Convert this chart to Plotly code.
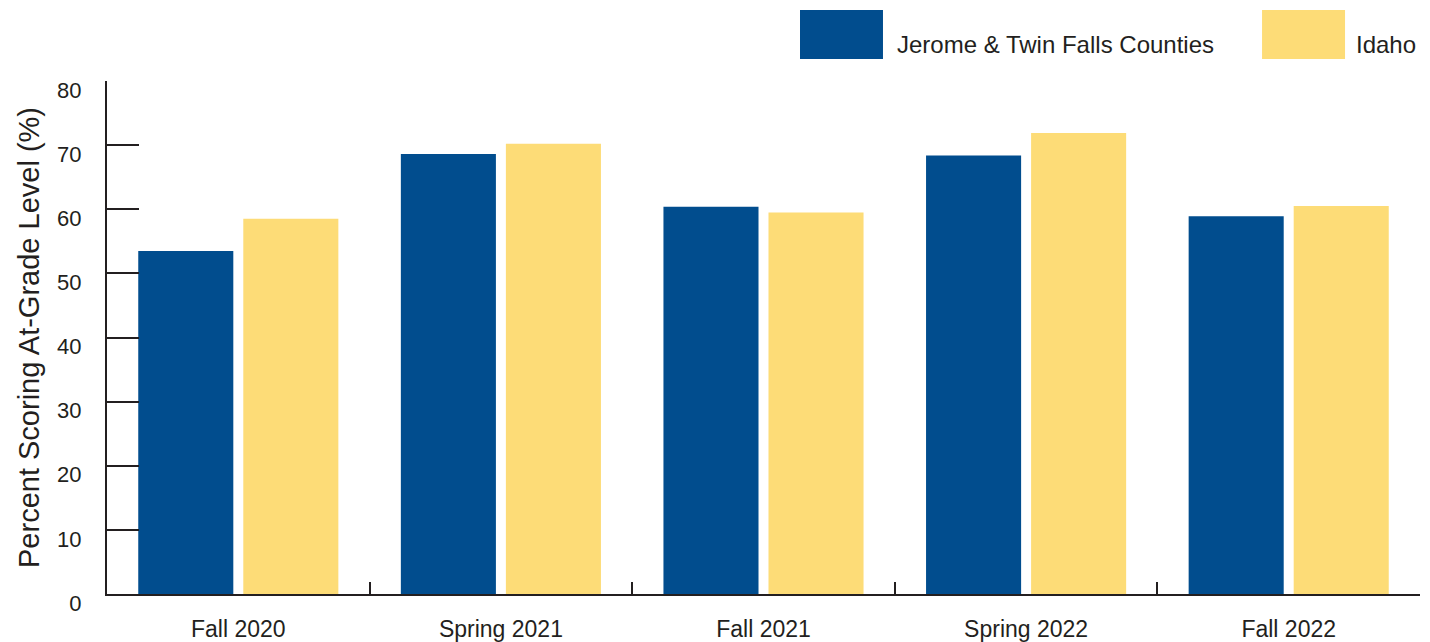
import plotly.graph_objects as go

categories = ["Fall 2020", "Spring 2021", "Fall 2021", "Spring 2022", "Fall 2022"]
jerome_twin_falls = [53.5, 68.6, 60.4, 68.4, 58.9]
idaho = [58.5, 70.2, 59.5, 71.9, 60.5]
series_names = ["Jerome & Twin Falls Counties", "Idaho"]
y_ticks = [0, 10, 20, 30, 40, 50, 60, 70, 80]

BLUE = "#014d8e"
YELLOW = "#fddc77"
INK = "#231f20"
FONT = "Liberation Sans, Arial, sans-serif"

fig = go.Figure()
fig.add_trace(go.Bar(x=categories, y=jerome_twin_falls, name=series_names[0],
                     marker=dict(color=BLUE, line=dict(width=0)), showlegend=False))
fig.add_trace(go.Bar(x=categories, y=idaho, name=series_names[1],
                     marker=dict(color=YELLOW, line=dict(width=0)), showlegend=False))

# custom legend (large swatches) in paper coordinates
legend_items = [
    (0.5278, 0.591, 0.6001, BLUE, series_names[0]),
    (0.8797, 0.9429, 0.9497, YELLOW, series_names[1]),
]
for x0, x1, xt, col, label in legend_items:
    fig.add_shape(type="rect", xref="paper", yref="paper", x0=x0, x1=x1,
                  y0=1.0429, y1=1.1384, fillcolor=col, line=dict(width=0))
    fig.add_annotation(xref="paper", yref="paper", x=xt, y=1.0721, text=label,
                       showarrow=False, xanchor="left", yanchor="middle",
                       font=dict(family=FONT, size=24, color=INK))

fig.update_layout(
    width=1430, height=642,
    margin=dict(l=107, r=10, t=81, b=48),
    paper_bgcolor="white", plot_bgcolor="white",
    barmode="group", bargap=0.2, bargroupgap=0.095,
    font=dict(family=FONT, color=INK),
)
fig.update_xaxes(
    automargin=False,
    showline=True, linewidth=2, linecolor=INK,
    ticks="inside", tickson="boundaries", ticklen=12, tickwidth=2, tickcolor=INK,
    tickfont=dict(family=FONT, size=23, color=INK),
    ticklabelstandoff=13,
    showgrid=False, zeroline=False,
)
fig.update_yaxes(
    automargin=False,
    range=[0, 80], tickvals=y_ticks,
    showline=True, linewidth=2, linecolor=INK,
    ticks="inside", ticklen=32, tickwidth=2, tickcolor=INK,
    tickfont=dict(family=FONT, size=22, color=INK),
    ticklabelstandoff=19, ticklabelshift=9,
    showgrid=False, zeroline=False,
    title=dict(text="Percent Scoring At-Grade Level (%)",
               font=dict(family=FONT, size=29, color=INK), standoff=9),
)

fig.write_html("out.html", config={"displayModeBar": False},
               post_script="document.body.style.margin='0';")
